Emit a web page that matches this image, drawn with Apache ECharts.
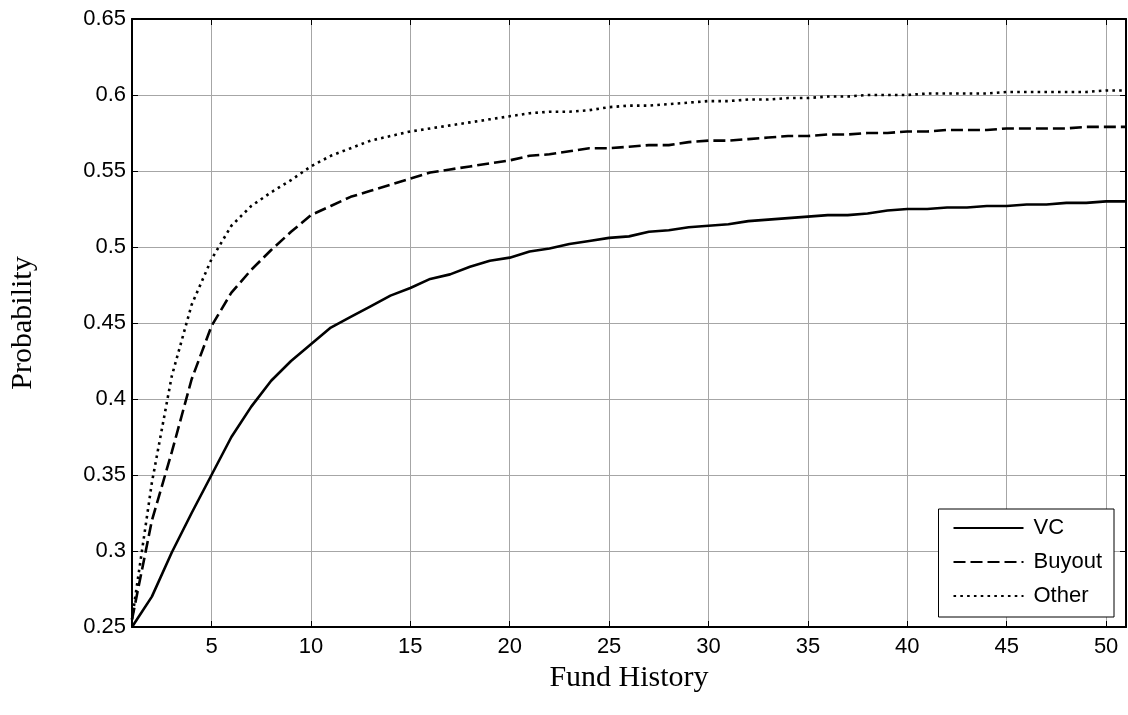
<!DOCTYPE html>
<html>
<head>
<meta charset="utf-8">
<script src="https://cdn.jsdelivr.net/npm/echarts@6/dist/echarts.min.js"></script>
<style>
html,body{margin:0;padding:0;background:#fff;}
#chart{width:1128px;height:715px;}
</style>
</head>
<body>
<div id="chart"></div>
<script>
const fundHistory = [1,2,3,4,5,6,7,8,9,10,11,12,13,14,15,16,17,18,19,20,21,22,23,24,25,26,27,28,29,30,31,32,33,34,35,36,37,38,39,40,41,42,43,44,45,46,47,48,49,50,51];
const vc = [0.250,0.270,0.299,0.325,0.350,0.375,0.395,0.412,0.425,0.436,0.447,0.454,0.461,0.468,0.473,0.479,0.482,0.487,0.491,0.493,0.497,0.499,0.502,0.504,0.506,0.507,0.510,0.511,0.513,0.514,0.515,0.517,0.518,0.519,0.520,0.521,0.521,0.522,0.524,0.525,0.525,0.526,0.526,0.527,0.527,0.528,0.528,0.529,0.529,0.530,0.530];
const buyout = [0.255,0.320,0.365,0.413,0.448,0.470,0.485,0.498,0.510,0.521,0.527,0.533,0.537,0.541,0.545,0.549,0.551,0.553,0.555,0.557,0.560,0.561,0.563,0.565,0.565,0.566,0.567,0.567,0.569,0.570,0.570,0.571,0.572,0.573,0.573,0.574,0.574,0.575,0.575,0.576,0.576,0.577,0.577,0.577,0.578,0.578,0.578,0.578,0.579,0.579,0.579];
const other = [0.255,0.345,0.415,0.462,0.492,0.514,0.527,0.536,0.544,0.553,0.560,0.565,0.570,0.573,0.576,0.578,0.580,0.582,0.584,0.586,0.588,0.589,0.589,0.590,0.592,0.593,0.593,0.594,0.595,0.596,0.596,0.597,0.597,0.598,0.598,0.599,0.599,0.600,0.600,0.600,0.601,0.601,0.601,0.601,0.602,0.602,0.602,0.602,0.602,0.603,0.603];
const xTicks = [5,10,15,20,25,30,35,40,45,50];
const seriesNames = ['VC','Buyout','Other'];

const pairs = arr => fundHistory.map((x,i)=>[x, arr[i]]);
const sansFont = 'Liberation Sans, Arial, Helvetica, sans-serif';
const serifFont = 'Liberation Serif, Times New Roman, serif';
const gridColor = '#a6a6a6';

const chart = echarts.init(document.getElementById('chart'), null, {renderer:'canvas'});
const baseX = {
  type:'value', min:1, max:51,
  axisLine:{show:true, onZero:false, lineStyle:{color:'#000', width:2}},
  axisTick:{show:true, inside:true, length:6, customValues:xTicks, lineStyle:{color:'#000', width:1}},
  splitLine:{show:false}
};
const baseY = {
  type:'value', min:0.25, max:0.65, interval:0.05,
  axisLine:{show:true, onZero:false, lineStyle:{color:'#000', width:2}},
  axisTick:{show:true, inside:true, length:6, lineStyle:{color:'#000', width:1}},
  splitLine:{show:false}
};
const option = {
  animation:false,
  backgroundColor:'#fff',
  grid:{left:130, right:2, top:19, bottom:88, containLabel:false},
  xAxis:[
    Object.assign({}, baseX, {
      position:'bottom',
      name:'Fund History', nameLocation:'middle', nameGap:27,
      nameTextStyle:{fontFamily:serifFont, fontSize:30, color:'#000'},
      axisLabel:{show:true, customValues:xTicks, margin:9, fontFamily:sansFont, fontSize:22, color:'#000'},
      splitLine:{show:true, lineStyle:{color:gridColor, width:1}}
    }),
    Object.assign({}, baseX, {position:'top', axisLabel:{show:false}})
  ],
  yAxis:[
    Object.assign({}, baseY, {
      position:'left',
      name:'Probability', nameLocation:'middle', nameGap:94, nameRotate:90,
      nameTextStyle:{fontFamily:serifFont, fontSize:30, color:'#000'},
      axisLabel:{show:true, margin:6, fontFamily:sansFont, fontSize:22, color:'#000',
        formatter: v => String(+v.toFixed(2))},
      splitLine:{show:true, lineStyle:{color:gridColor, width:1}}
    }),
    Object.assign({}, baseY, {position:'right', axisLabel:{show:false}})
  ],
  legend:{
    show:true, orient:'vertical', right:14, bottom:98,
    data:seriesNames,
    itemWidth:70, itemHeight:14, itemGap:12,
    padding:[8,12,10,14],
    backgroundColor:'#fff', borderColor:'#000', borderWidth:1,
    itemStyle:{color:'rgba(0,0,0,0)', borderColor:'rgba(0,0,0,0)', borderWidth:0, opacity:0},
    textStyle:{fontFamily:sansFont, fontSize:22, color:'#000', padding:[0,0,0,5]}
  },
  series:[
    {name:seriesNames[0], type:'line', data:pairs(vc), symbol:'none', smooth:false,
      lineStyle:{color:'#000', width:2.6, type:'solid'}, itemStyle:{color:'#000'}, z:5},
    {name:seriesNames[1], type:'line', data:pairs(buyout), symbol:'none', smooth:false,
      lineStyle:{color:'#000', width:2.6, type:[12,5]}, itemStyle:{color:'#000'}, z:5},
    {name:seriesNames[2], type:'line', data:pairs(other), symbol:'none', smooth:false,
      lineStyle:{color:'#000', width:2.6, type:[2.6,4.2]}, itemStyle:{color:'#000'}, z:5}
  ]
};
chart.setOption(option);
</script>
</body>
</html>
